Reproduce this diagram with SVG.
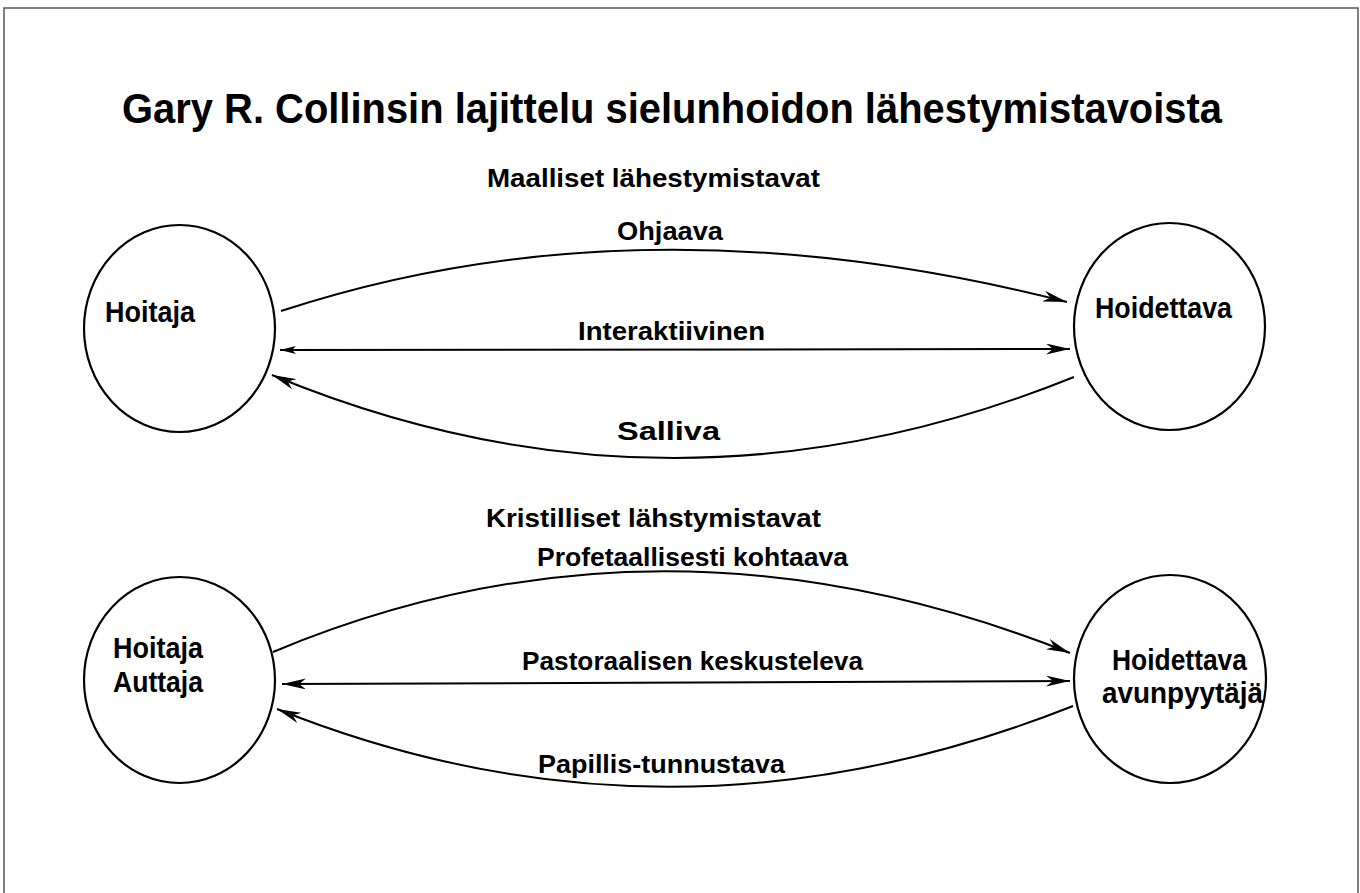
<svg xmlns="http://www.w3.org/2000/svg" width="1360" height="893" viewBox="0 0 1360 893">
<style>
text{font-family:"Liberation Sans",Arial,sans-serif;font-weight:bold;fill:#000}
.title{font-size:43px}
.lbl{font-size:26px}
.node{font-size:29px}
.c{fill:#fff;stroke:#000;stroke-width:2.2}
.e{fill:none;stroke:#000;stroke-width:2}
</style>
<defs>
<marker id="ah" viewBox="0 0 24 11" refX="24" refY="5.5" markerWidth="24" markerHeight="11" markerUnits="userSpaceOnUse" orient="auto-start-reverse">
<path d="M0,0 L24,5.5 L0,11 L7,5.5 Z" fill="#000"/>
</marker>
<marker id="ahs" viewBox="0 0 20 10" refX="20" refY="5" markerWidth="16" markerHeight="8" markerUnits="userSpaceOnUse" orient="auto-start-reverse">
<path d="M0,0 L20,5 L0,10 L5,5 Z" fill="#000"/>
</marker>
</defs>
<rect x="0" y="0" width="1360" height="893" fill="#fff"/>
<rect x="4" y="8" width="1354" height="900" fill="none" stroke="#555" stroke-width="1.5"/>
<text class="title" x="122" y="123" textLength="1100" lengthAdjust="spacingAndGlyphs">Gary R. Collinsin lajittelu sielunhoidon lähestymistavoista</text>
<text class="lbl" x="487" y="187" textLength="333" lengthAdjust="spacingAndGlyphs">Maalliset lähestymistavat</text>
<text class="lbl" x="486" y="527" textLength="335" lengthAdjust="spacingAndGlyphs">Kristilliset lähstymistavat</text>
<g id="connectors">
<path class="e" d="M281,311 Q640,193 1067,302" marker-end="url(#ah)"/>
<path class="e" d="M280,350 L1070,349" marker-end="url(#ah)" marker-start="url(#ahs)"/>
<path class="e" d="M1074,377 Q670,540 272,375" marker-end="url(#ah)"/>
<path class="e" d="M273,652 Q660,490 1070,653" marker-end="url(#ah)"/>
<path class="e" d="M1070,681 L282,684" marker-end="url(#ah)" marker-start="url(#ah)"/>
<path class="e" d="M1073,706 Q670,866 277,709" marker-end="url(#ah)"/>
<text class="lbl" x="617" y="240" textLength="106" lengthAdjust="spacingAndGlyphs">Ohjaava</text>
<text class="lbl" x="578" y="340" textLength="187" lengthAdjust="spacingAndGlyphs">Interaktiivinen</text>
<text class="lbl" x="617" y="440" textLength="103" lengthAdjust="spacingAndGlyphs">Salliva</text>
<text class="lbl" x="537" y="566" textLength="311" lengthAdjust="spacingAndGlyphs">Profetaallisesti kohtaava</text>
<text class="lbl" x="522" y="670" textLength="341" lengthAdjust="spacingAndGlyphs">Pastoraalisen keskusteleva</text>
<text class="lbl" x="538" y="773" textLength="247" lengthAdjust="spacingAndGlyphs">Papillis-tunnustava</text>
</g>
<g id="hoitaja1">
<ellipse class="c" cx="179.5" cy="328.5" rx="95.5" ry="103.5"/>
<text class="node" x="105" y="322" textLength="90" lengthAdjust="spacingAndGlyphs">Hoitaja</text>
</g>
<g id="hoidettava1">
<ellipse class="c" cx="1169.5" cy="326.5" rx="95.5" ry="103.5"/>
<text class="node" x="1095" y="318" textLength="137" lengthAdjust="spacingAndGlyphs">Hoidettava</text>
</g>
<g id="hoitaja2">
<ellipse class="c" cx="179.5" cy="680" rx="95.5" ry="103"/>
<text class="node" x="113" y="658" textLength="90" lengthAdjust="spacingAndGlyphs">Hoitaja</text>
<text class="node" x="113" y="692" textLength="90" lengthAdjust="spacingAndGlyphs">Auttaja</text>
</g>
<g id="hoidettava2">
<ellipse class="c" cx="1170" cy="679" rx="96" ry="104"/>
<text class="node" x="1112" y="670" textLength="135" lengthAdjust="spacingAndGlyphs">Hoidettava</text>
<text class="node" x="1102" y="703" textLength="161" lengthAdjust="spacingAndGlyphs">avunpyytäjä</text>
</g>
</svg>
